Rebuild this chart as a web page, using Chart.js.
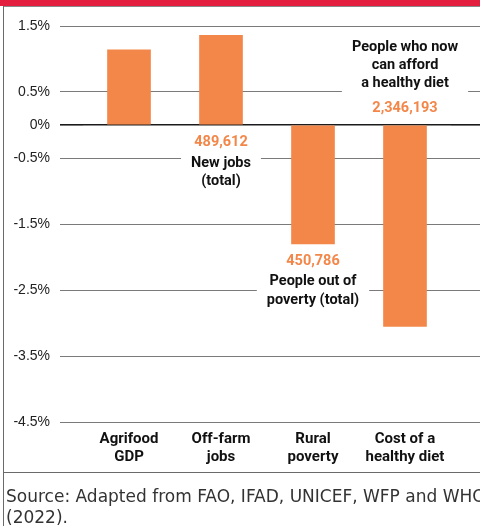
<!DOCTYPE html>
<html>
<head>
<meta charset="utf-8">
<script src="https://cdn.jsdelivr.net/npm/chart.js@4.4.1/dist/chart.umd.min.js"></script>
<style>
    html, body { margin: 0; padding: 0; background: #fff; }
    .panel { position: relative; width: 480px; height: 526px; overflow: hidden; }
    .panel canvas { position: absolute; left: 0; top: 0; }
    .top-band { position: absolute; left: 0; top: 0; width: 480px; height: 6px; background: #E31E3E; }
    .top-rule { position: absolute; left: 3px; top: 6px; width: 477px; height: 1px; background: #8a8a8a; }
    .left-rule { position: absolute; left: 3px; top: 6px; width: 1px; height: 520px; background: #6a6a6a; }
    .foot-rule { position: absolute; left: 3px; top: 472px; width: 477px; height: 1px; background: #6a6a6a; }
    .source {
        position: absolute; left: 6px; top: 486px; width: 474px;
        font-family: 'DejaVu Sans', sans-serif; font-size: 17px; line-height: 21px;
        color: #333; white-space: nowrap;
    }
</style>
</head>
<body>
<div class="panel">
    <canvas id="chart" width="480" height="473"></canvas>
    <div class="top-band"></div>
    <div class="top-rule"></div>
    <div class="left-rule"></div>
    <div class="foot-rule"></div>
    <div class="source">Source: Adapted from FAO, IFAD, UNICEF, WFP and WHO<br>(2022).</div>
</div>
<script>
const ORANGE = '#F3874A';
const LABEL_FONT = "'Roboto', 'Liberation Sans', sans-serif";

const categories = [['Agrifood', 'GDP'], ['Off-farm', 'jobs'], ['Rural', 'poverty'], ['Cost of a', 'healthy diet']];
const changePct = [1.14, 1.36, -1.80, -3.05];
const tickValues = [1.5, 0.5, 0, -0.5, -1.5, -2.5, -3.5, -4.5];
const impactCounts = ['', '489,612', '450,786', '2,346,193'];
const impactNotes = [[], ['New jobs', '(total)'], ['People out of', 'poverty (total)'], ['People who now', 'can afford', 'a healthy diet']];

// where each note block sits: under the zero line, under the bar end, or above the zero line
const notePlacement = ['none', 'belowZero', 'belowBar', 'aboveZero'];

const setTicks = scale => {
    scale.ticks = tickValues.map(v => ({value: v}));
};

const gridColor = ctx => (ctx.tick && ctx.tick.value === 0 ? '#1b1b1b' : '#7a7a7a');
const gridWidth = ctx => (ctx.tick && ctx.tick.value === 0 ? 1.6 : 1);

const impactNotesPlugin = {
    id: 'impactNotes',
    afterDatasetsDraw(chart) {
        const {ctx, scales: {x, y}} = chart;
        const lineH = 18.5;
        ctx.save();
        ctx.textAlign = 'center';
        ctx.textBaseline = 'middle';
        notePlacement.forEach((mode, i) => {
            if (mode === 'none') return;
            const cx = x.getPixelForValue(i);
            const zero = y.getPixelForValue(0);
            let rows = [];
            if (mode === 'aboveZero') {
                const valueY = zero - 17;
                const last = valueY - 25;
                const n = impactNotes[i].length;
                impactNotes[i].forEach((t, k) => rows.push({text: t, y: last - 18 * (n - 1 - k), color: '#111'}));
                rows.push({text: impactCounts[i], y: valueY, color: ORANGE});
            } else {
                const start = (mode === 'belowZero' ? zero : y.getPixelForValue(changePct[i])) + 17.5;
                rows.push({text: impactCounts[i], y: start, color: ORANGE});
                impactNotes[i].forEach((t, k) => rows.push({text: t, y: start + 20.5 + lineH * k, color: '#111'}));
            }
            ctx.font = `bold 14.5px ${LABEL_FONT}`;
            const w = Math.max(...rows.map(r => ctx.measureText(r.text).width)) + 20;
            const y0 = rows[0].y - 9;
            const y1 = rows[rows.length - 1].y + 9;
            ctx.fillStyle = '#fff';
            ctx.fillRect(cx - w / 2, y0, w, y1 - y0);
            rows.forEach(r => {
                ctx.fillStyle = r.color;
                ctx.fillText(r.text, cx, r.y);
            });
        });
        ctx.restore();
    }
};

new Chart(document.getElementById('chart'), {
    type: 'bar',
    data: {
        labels: categories,
        datasets: [{
            data: changePct,
            backgroundColor: ORANGE,
            barThickness: 43,
            borderWidth: 0,
        }],
    },
    options: {
        responsive: false,
        animation: false,
        devicePixelRatio: 1,
        layout: {padding: {top: 26, left: 0, right: 0, bottom: 0}},
        plugins: {
            legend: {display: false},
            tooltip: {enabled: false},
        },
        scales: {
            x: {
                offset: true,
                grid: {display: false},
                border: {display: false},
                afterFit: scale => { scale.height = 51; },
                ticks: {
                    padding: 0,
                    color: '#111',
                    maxRotation: 0,
                    font: {family: LABEL_FONT, weight: 'bold', size: 15, lineHeight: '18px'},
                },
            },
            y: {
                min: -4.5,
                max: 1.5,
                afterBuildTicks: setTicks,
                afterFit: scale => { scale.width = 83; },
                border: {display: false},
                grid: {color: gridColor, lineWidth: gridWidth, tickLength: 23},
                ticks: {
                    padding: 10,
                    color: '#222',
                    font: {family: "'Liberation Sans', Arial, sans-serif", size: 14},
                    callback: v => `${v}%`,
                },
            },
            // mirror axis on the right only to carry the grid out to the panel edge
            yRight: {
                position: 'right',
                min: -4.5,
                max: 1.5,
                afterBuildTicks: setTicks,
                afterFit: scale => { scale.width = 29; },
                border: {display: false},
                grid: {drawOnChartArea: false, color: gridColor, lineWidth: gridWidth, tickLength: 29},
                ticks: {display: false},
            },
        },
    },
    plugins: [impactNotesPlugin],
});
</script>
</body>
</html>
